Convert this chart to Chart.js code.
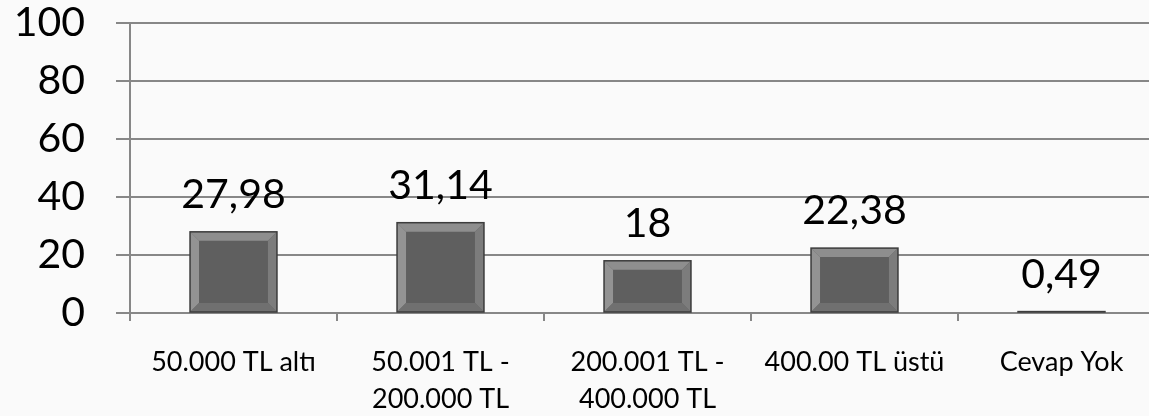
<!DOCTYPE html>
<html>
<head>
<meta charset="utf-8">
<script src="https://cdn.jsdelivr.net/npm/chart.js@4/dist/chart.umd.min.js"></script>
<style>
  html, body { margin: 0; padding: 0; overflow: hidden; background: #fafafa; }
  #wrap { width: 1172px; height: 416px; }
</style>
</head>
<body>
<div id="wrap"><canvas id="incomeChart"></canvas></div>
<script>
const categories = [
    '50.000 TL altı',
    ['50.001 TL -', '200.000 TL'],
    ['200.001 TL -', '400.000 TL'],
    '400.00 TL üstü',
    'Cevap Yok'
];
const percentages = [27.98, 31.14, 18, 22.38, 0.49];
const valueLabels = ['27,98', '31,14', '18', '22,38', '0,49'];
const yTicks = [0, 20, 40, 60, 80, 100];

const gridGray = '#878787';
const fontFamily = 'Lato, "Open Sans", sans-serif';

// bevelled bars + value labels
const bevelPlugin = {
    id: 'bevel',
    afterDatasetsDraw(chart) {
        const ctx = chart.ctx;
        const meta = chart.getDatasetMeta(0);
        meta.data.forEach((bar, i) => {
            const left = bar.x - bar.width / 2;
            const right = bar.x + bar.width / 2;
            const top = bar.y;
            const bottom = bar.base;
            const h = bottom - top;
            const b = Math.min(9, h / 2, bar.width / 2);
            ctx.save();
            if (b > 1) {
                // top
                ctx.fillStyle = '#8e8e8e';
                ctx.beginPath();
                ctx.moveTo(left, top); ctx.lineTo(right, top);
                ctx.lineTo(right - b, top + b); ctx.lineTo(left + b, top + b);
                ctx.closePath(); ctx.fill();
                // left
                ctx.fillStyle = '#939393';
                ctx.beginPath();
                ctx.moveTo(left, top); ctx.lineTo(left + b, top + b);
                ctx.lineTo(left + b, bottom - b); ctx.lineTo(left, bottom);
                ctx.closePath(); ctx.fill();
                // right
                ctx.fillStyle = '#7c7c7c';
                ctx.beginPath();
                ctx.moveTo(right, top); ctx.lineTo(right - b, top + b);
                ctx.lineTo(right - b, bottom - b); ctx.lineTo(right, bottom);
                ctx.closePath(); ctx.fill();
                // bottom
                ctx.fillStyle = '#707070';
                ctx.beginPath();
                ctx.moveTo(left, bottom); ctx.lineTo(right, bottom);
                ctx.lineTo(right - b, bottom - b); ctx.lineTo(left + b, bottom - b);
                ctx.closePath(); ctx.fill();
            }
            ctx.strokeStyle = '#3c3c3c';
            ctx.lineWidth = 1.5;
            ctx.strokeRect(left, top, bar.width, h);

            ctx.fillStyle = '#000';
            ctx.font = '41px ' + fontFamily;
            ctx.textAlign = 'center';
            ctx.textBaseline = 'alphabetic';
            ctx.fillText(valueLabels[i], bar.x, top - 24);
            ctx.restore();
        });
    }
};

const ctx = document.getElementById('incomeChart').getContext('2d');

const chart = new Chart(ctx, {
    type: 'bar',
    data: {
        labels: categories,
        datasets: [{
            data: percentages,
            backgroundColor: '#5f5f5f',
            borderWidth: 0,
            categoryPercentage: 1,
            barPercentage: 0.42
        }]
    },
    options: {
        responsive: true,
        maintainAspectRatio: false,
        animation: false,
        layout: { padding: { top: 23, right: 7, left: 0, bottom: 0 } },
        plugins: {
            legend: { display: false },
            tooltip: { enabled: false }
        },
        scales: {
            x: {
                grid: {
                    offset: true,
                    drawOnChartArea: false,
                    drawTicks: true,
                    tickLength: 8,
                    color: gridGray,
                    lineWidth: 2
                },
                border: { display: true, color: gridGray, width: 2 },
                ticks: {
                    color: '#000',
                    padding: 22,
                    maxRotation: 0,
                    autoSkip: false,
                    font: { family: fontFamily, size: 27, lineHeight: 1.4 }
                },
                afterFit(scale) { scale.height = 103; }
            },
            y: {
                min: 0,
                max: 100,
                afterBuildTicks(scale) { scale.ticks = yTicks.map(v => ({ value: v })); },
                grid: {
                    color: gridGray,
                    lineWidth: 2,
                    tickLength: 14
                },
                border: { display: true, color: gridGray, width: 2 },
                ticks: {
                    color: '#000',
                    padding: 31,
                    autoSkip: false,
                    font: { family: fontFamily, size: 41, lineHeight: 1 }
                },
                afterFit(scale) {
                    scale.width = 130;
                    scale.paddingTop = 0;
                    scale.paddingBottom = 0;
                }
            }
        }
    },
    plugins: [bevelPlugin]
});
</script>
</body>
</html>
